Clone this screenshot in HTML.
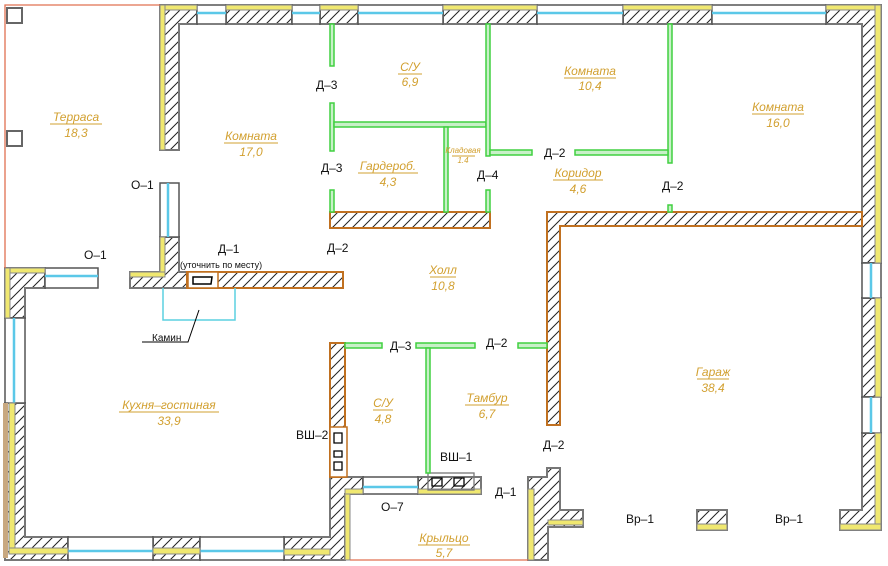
<!DOCTYPE html>
<html><head><meta charset="utf-8"><style>
html,body{margin:0;padding:0;background:#fff;width:888px;height:566px;overflow:hidden}
svg text{font-family:"Liberation Sans","DejaVu Sans",sans-serif}
.lbl{font-size:12px;fill:#111}
.rm{font-size:12px;fill:#d2a030;font-style:italic;text-anchor:middle}
</style></head><body>
<svg width="888" height="566" viewBox="0 0 888 566" xmlns="http://www.w3.org/2000/svg">
<defs>
<pattern id="h" width="10" height="10" patternUnits="userSpaceOnUse">
<rect width="10" height="10" fill="#fff"/>
<path d="M-1,11 L11,-1 M-6,6 L6,-6 M4,16 L16,4" stroke="#222" stroke-width="1"/>
</pattern>
</defs>
<g stroke="#777" stroke-width="2" fill="url(#h)">
<path d="M160,5H197V24H179V150H160Z"/>
<rect x="226" y="5" width="66" height="19"/>
<rect x="320" y="5" width="38" height="19"/>
<rect x="443" y="5" width="94" height="19"/>
<rect x="623" y="5" width="89" height="19"/>
<path d="M826,5H881V263H862V24H826Z"/>
<rect x="862" y="298" width="19" height="99"/>
<path d="M862,433H881V530H840V510H862Z"/>
<rect x="697" y="510" width="30" height="20"/>
<path d="M160,237H179V272H187V288H130V272H160Z"/>
<path d="M5,268H45V288H25V318H5Z"/>
<path d="M5,403H25V537H68V560H5Z"/>
<rect x="153" y="537" width="47" height="23"/>
<path d="M284,537H330V477H363V494H345V560H284Z"/>
<rect x="418" y="477" width="63" height="17"/>
<path d="M528,477H547V468H560V510H583V527H548V560H528Z"/>
</g>
<g stroke="#555" stroke-width="1.5" fill="#fff">
<rect x="197" y="5" width="29" height="19"/><rect x="292" y="5" width="28" height="19"/>
<rect x="358" y="5" width="85" height="19"/><rect x="537" y="5" width="86" height="19"/>
<rect x="712" y="5" width="114" height="19"/>
<rect x="862" y="263" width="19" height="35"/><rect x="862" y="397" width="19" height="36"/>
<rect x="160" y="183" width="19" height="54"/>
<rect x="45" y="268" width="53" height="20"/>
<rect x="5" y="318" width="20" height="85"/>
<rect x="68" y="537" width="85" height="23"/><rect x="200" y="537" width="84" height="23"/>
<rect x="363" y="477" width="55" height="17"/>
</g>
<g stroke="#5bc8e8" stroke-width="2.5" fill="none">
<path d="M197,13H226M292,13H320M358,13H443M537,13H623M712,13H826"/>
<path d="M871,263V298M871,397V433M168,183V237M45,276H98M14,318V403M68,551H153M200,551H284M363,487H418"/>
</g>
<g fill="#f0e870" stroke="#888" stroke-width="1">
<rect x="160" y="5" width="37" height="5"/><rect x="226" y="5" width="66" height="5"/>
<rect x="320" y="5" width="38" height="5"/><rect x="443" y="5" width="94" height="5"/>
<rect x="623" y="5" width="89" height="5"/><rect x="826" y="5" width="55" height="5"/>
<rect x="160" y="5" width="5" height="145"/>
<rect x="875" y="5" width="6" height="258"/><rect x="875" y="298" width="6" height="99"/><rect x="875" y="433" width="6" height="97"/>
<rect x="840" y="524" width="41" height="6"/><rect x="697" y="524" width="30" height="6"/>
<rect x="160" y="237" width="5" height="40"/><rect x="130" y="272" width="35" height="5"/>
<rect x="5" y="268" width="40" height="5"/><rect x="5" y="268" width="5" height="50"/>
<rect x="9" y="403" width="6" height="150"/><rect x="9" y="548" width="59" height="6"/>
<rect x="153" y="548" width="47" height="6"/><rect x="284" y="549" width="46" height="6"/>
<rect x="345" y="489" width="5" height="71"/><rect x="345" y="489" width="18" height="5"/>
<rect x="418" y="489" width="63" height="5"/>
<rect x="528" y="489" width="6" height="71"/><rect x="548" y="520" width="35" height="5"/>
</g>
<rect x="3" y="403" width="5" height="155" fill="#c8a880"/>
<g stroke="#c07020" stroke-width="2" fill="url(#h)">
<rect x="187" y="272" width="156" height="16"/>
<rect x="330" y="212" width="160" height="16"/>
<path d="M547,212H862V226H560V425H547Z"/>
<rect x="330" y="343" width="15" height="134"/>
</g>
<rect x="188" y="272" width="30" height="16" fill="#fff" stroke="#c07020" stroke-width="1.5"/>
<path d="M193,277H212L211,284H193Z" fill="#fff" stroke="#000" stroke-width="1.5"/>
<rect x="330" y="427" width="17" height="50" fill="#fff" stroke="#c07020" stroke-width="1.5"/>
<g stroke="#000" stroke-width="1.3" fill="none">
<path d="M334,433h8v10h-8zM334,451h8v6h-8zM334,462h8v8h-8z"/>
<rect x="428" y="473" width="46" height="17" stroke="#777"/>
<path d="M432,478h10v8h-10zM454,478h10v8h-10z"/>
</g>
<path d="M163,288V320H235V288" stroke="#5bd0e0" stroke-width="1.5" fill="none"/>
<path d="M199,310L188,342H142" stroke="#000" stroke-width="1" fill="none"/>
<path d="M5,268V5H160" stroke="#e07050" stroke-width="1.3" fill="none"/>
<path d="M350,560H528" stroke="#e07050" stroke-width="1.3"/>
<rect x="7" y="8" width="15" height="15" fill="#fff" stroke="#666" stroke-width="2"/>
<rect x="7" y="131" width="15" height="15" fill="#fff" stroke="#666" stroke-width="2"/>
<g fill="#c8f0c8" stroke="#40d040" stroke-width="1.5">
<rect x="330" y="24" width="4" height="42"/><rect x="330" y="103" width="4" height="48"/><rect x="330" y="190" width="4" height="22"/>
<rect x="334" y="122" width="152" height="5"/>
<rect x="486" y="24" width="4" height="132"/><rect x="490" y="150" width="42" height="5"/>
<rect x="444" y="127" width="4" height="85"/>
<rect x="486" y="190" width="4" height="22"/>
<rect x="668" y="24" width="4" height="139"/><rect x="575" y="150" width="93" height="5"/>
<rect x="668" y="205" width="4" height="7"/>
<rect x="345" y="343" width="37" height="5"/><rect x="416" y="343" width="59" height="5"/><rect x="518" y="343" width="29" height="5"/>
<rect x="426" y="348" width="4" height="125"/>
</g>
<g class="lbl">
<text x="316" y="89">Д–3</text><text x="321" y="172">Д–3</text><text x="327" y="252">Д–2</text>
<text x="218" y="253">Д–1</text><text x="180" y="268" font-size="9">(уточнить по месту)</text>
<text x="131" y="189">О–1</text><text x="84" y="259">О–1</text>
<text x="477" y="179">Д–4</text><text x="544" y="157">Д–2</text><text x="662" y="190">Д–2</text>
<text x="390" y="350">Д–3</text><text x="486" y="347">Д–2</text><text x="543" y="449">Д–2</text>
<text x="296" y="439">ВШ–2</text><text x="440" y="461">ВШ–1</text><text x="495" y="496">Д–1</text>
<text x="381" y="511">О–7</text><text x="626" y="523">Вр–1</text><text x="775" y="523">Вр–1</text>
<text x="152" y="341" font-size="10">Камин</text>
</g>
<g class="rm">
<text x="76" y="121">Терраса</text><text x="76" y="137">18,3</text>
<text x="251" y="140">Комната</text><text x="251" y="156">17,0</text>
<text x="410" y="71">С/У</text><text x="410" y="86">6,9</text>
<text x="590" y="75">Комната</text><text x="590" y="90">10,4</text>
<text x="778" y="111">Комната</text><text x="778" y="127">16,0</text>
<text x="388" y="170">Гардероб.</text><text x="388" y="186">4,3</text>
<text x="463" y="153" font-size="8">Кладовая</text><text x="463" y="163" font-size="8">1.4</text>
<text x="578" y="177">Коридор</text><text x="578" y="193">4,6</text>
<text x="443" y="274">Холл</text><text x="443" y="290">10,8</text>
<text x="169" y="409">Кухня–гостиная</text><text x="169" y="425">33,9</text>
<text x="383" y="407">С/У</text><text x="383" y="423">4,8</text>
<text x="487" y="402">Тамбур</text><text x="487" y="418">6,7</text>
<text x="713" y="376">Гараж</text><text x="713" y="392">38,4</text>
<text x="444" y="542">Крыльцо</text><text x="444" y="557">5,7</text>
</g>
<g stroke="#d2a030" stroke-width="1">
<path d="M50,124H102M224,143H278M398,74H422M564,78H616M752,114H804M358,173H418M452,156H475M553,180H603M430,277H456M119,412H219M373,410H393M465,405H509M697,379H729M418,545H470"/>
</g>
</svg>
</body></html>
